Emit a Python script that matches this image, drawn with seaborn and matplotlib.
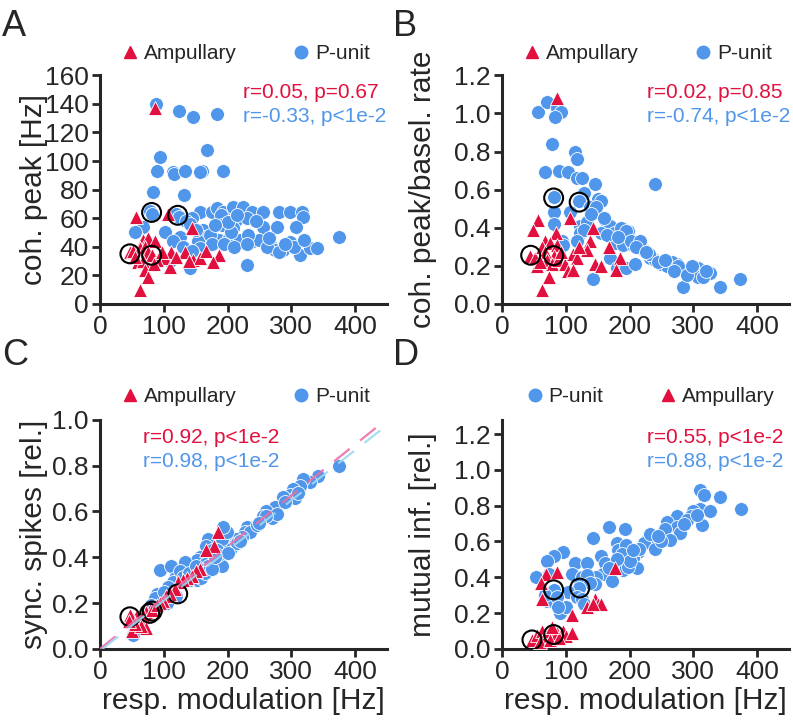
import numpy as np
import matplotlib
matplotlib.use("Agg")
import matplotlib.pyplot as plt
from matplotlib.lines import Line2D
import seaborn as sns

RED = "#e2103f"
BLUE = "#5096ea"

# ---- panel A: coherence peak [Hz] ----
a_punit_x = [88, 124, 146, 183, 168, 94, 90, 114, 116, 133, 160, 157, 193, 83, 132,
             78, 81, 120, 124, 157, 175, 183, 193, 209, 225, 238, 256, 280, 298, 316, 319,
             214, 190, 145, 135, 141, 191, 209, 256, 277, 308, 68, 230, 162,
             55, 102, 125, 159, 165, 186, 201, 220, 240, 115, 154, 267, 298, 374, 250, 232,
             205, 172, 157, 274, 287, 314, 329, 340, 262, 280, 305, 130, 145, 175, 195, 210,
             230, 141, 230, 110, 200, 245, 265, 150, 180, 215, 290, 320]
a_punit_y = [140, 135, 131, 133, 108, 103, 93, 92, 91, 93, 93, 92, 93, 78, 76,
             65, 63, 63, 61, 64, 64, 67, 64, 68, 68, 64, 64, 64, 64, 64, 61,
             59, 62, 60, 58, 56, 55, 53, 54, 54, 54, 54, 60, 52,
             50, 50, 47, 46, 47, 45, 45, 45, 44, 44, 44, 42, 43, 47, 45, 48,
             50, 48, 39, 38, 38, 34, 39, 39, 40, 36, 40, 40, 37, 42, 42, 40,
             42, 25, 27, 30, 57, 58, 46, 52, 55, 62, 42, 45]
a_amp_x = [86, 57, 106, 144, 68, 76, 86, 47, 52, 63, 71, 76, 81, 94, 102, 112, 133, 146,
           157, 167, 186, 178, 110, 60, 68, 71, 76, 63, 89, 55, 98, 120, 140, 85]
a_amp_y = [137, 61, 63, 53, 45, 46, 44, 36, 37, 39, 40, 36, 34, 34, 32, 36, 36, 31,
           32, 37, 34, 29, 26, 29, 30, 24, 19, 10, 31, 33, 36, 33, 30, 28]
a_sel_x = [47, 81, 81, 122]
a_sel_y = [35, 34, 64, 62]

# ---- panel B: coherence peak / baseline rate ----
b_punit_x = [57, 70, 86, 93, 83, 78, 114, 117, 68, 89, 104, 117, 125, 146, 240, 128, 81, 121,
             151, 156, 81, 81, 107, 138, 148, 161, 169, 188, 198, 122, 133, 156, 175, 177,
             190, 206, 214, 222, 232, 240, 250, 261, 274, 279, 290, 300, 308, 310, 326, 342,
             373, 143, 284, 308, 122, 128, 187, 195, 203, 216, 169, 180, 94, 96, 117, 195,
             209, 266, 258, 276, 165, 182, 230, 245, 270, 290, 315, 320, 298, 140, 160, 210,
             225, 255]
b_punit_y = [1.01, 1.06, 1.03, 1.01, 0.98, 0.84, 0.80, 0.76, 0.69, 0.70, 0.69, 0.66, 0.66, 0.63,
             0.63, 0.58, 0.56, 0.54, 0.55, 0.54, 0.48, 0.42, 0.48, 0.51, 0.51, 0.44, 0.41, 0.40,
             0.38, 0.41, 0.43, 0.37, 0.37, 0.32, 0.31, 0.31, 0.32, 0.28, 0.24, 0.23, 0.21, 0.21,
             0.21, 0.19, 0.18, 0.16, 0.19, 0.15, 0.16, 0.09, 0.13, 0.13, 0.09, 0.14, 0.37, 0.39,
             0.40, 0.38, 0.33, 0.33, 0.24, 0.19, 0.33, 0.31, 0.33, 0.19, 0.21, 0.22, 0.20, 0.20,
             0.36, 0.35, 0.26, 0.22, 0.17, 0.15, 0.14, 0.17, 0.20, 0.47, 0.45, 0.30, 0.27, 0.23]
b_amp_x = [87, 57, 48, 106, 85, 67, 75, 86, 44, 52, 81, 62, 67, 70, 78, 88, 99, 104, 111, 117,
           138, 133, 143, 167, 146, 156, 185, 179, 112, 73, 62, 55, 60, 93, 120]
b_amp_y = [1.08, 0.44, 0.39, 0.45, 0.37, 0.33, 0.32, 0.31, 0.25, 0.24, 0.25, 0.30, 0.27, 0.23,
           0.21, 0.23, 0.21, 0.17, 0.26, 0.24, 0.33, 0.28, 0.40, 0.30, 0.21, 0.20, 0.24, 0.18,
           0.18, 0.14, 0.07, 0.20, 0.22, 0.27, 0.30]
b_sel_x = [45, 81, 81, 121]
b_sel_y = [0.255, 0.253, 0.556, 0.534]

# ---- panel C: synchronous spikes ----
c_punit_x = [374, 342, 329, 319, 313, 303, 298, 306, 287, 274, 261, 256, 269, 277, 240, 230, 227,
             235, 246, 222, 214, 209, 204, 193, 191, 199, 193, 170, 167, 175, 183, 157, 152, 165,
             170, 157, 146, 191, 94, 112, 133, 118, 125, 115, 131, 141, 152, 89, 86, 107, 105,
             120, 159, 165, 175, 52, 62, 75, 290, 310, 260, 250, 215, 185, 140, 100, 80, 180,
             200, 220, 150]
c_punit_y = [0.80, 0.755, 0.73, 0.74, 0.71, 0.70, 0.67, 0.66, 0.665, 0.62, 0.60, 0.58, 0.57, 0.59,
             0.53, 0.53, 0.51, 0.51, 0.54, 0.49, 0.48, 0.45, 0.43, 0.45, 0.48, 0.51, 0.53, 0.48,
             0.45, 0.43, 0.43, 0.40, 0.39, 0.37, 0.36, 0.35, 0.33, 0.36, 0.345, 0.36, 0.38, 0.31,
             0.34, 0.29, 0.315, 0.30, 0.30, 0.24, 0.22, 0.27, 0.20, 0.23, 0.31, 0.33, 0.35, 0.06,
             0.12, 0.16, 0.64, 0.68, 0.58, 0.55, 0.46, 0.41, 0.33, 0.25, 0.19, 0.40, 0.42, 0.47,
             0.36]
c_amp_x = [185, 179, 167, 157, 151, 144, 136, 131, 123, 118, 110, 104, 99, 94, 86, 78, 73, 68,
           57, 52, 47, 63, 60, 50, 73, 82, 90, 65, 55, 45]
c_amp_y = [0.51, 0.45, 0.43, 0.35, 0.34, 0.32, 0.31, 0.30, 0.29, 0.26, 0.24, 0.23, 0.21, 0.20,
           0.185, 0.17, 0.16, 0.15, 0.14, 0.13, 0.15, 0.12, 0.105, 0.08, 0.09, 0.17, 0.19, 0.10,
           0.11, 0.12]
c_sel_x = [47, 78, 82, 122]
c_sel_y = [0.14, 0.155, 0.165, 0.24]
c_fit_slope_amp = 0.00223
c_fit_slope_punit = 0.00219

# ---- panel D: mutual information ----
d_punit_x = [310, 317, 341, 375, 310, 326, 300, 297, 313, 274, 258, 274, 279, 256, 263, 237, 227,
             222, 240, 232, 214, 206, 195, 211, 190, 198, 168, 193, 143, 180, 182, 195, 188, 156,
             161, 172, 159, 172, 148, 146, 96, 81, 70, 114, 133, 54, 73, 109, 125, 133, 122, 138,
             81, 121, 70, 78, 91, 101, 104, 117, 125, 128, 67, 86, 88, 250, 290, 200, 180, 168,
             215, 205, 245, 285, 305]
d_punit_y = [0.89, 0.86, 0.85, 0.78, 0.78, 0.77, 0.77, 0.74, 0.69, 0.74, 0.71, 0.68, 0.65, 0.67,
             0.61, 0.62, 0.61, 0.59, 0.56, 0.64, 0.54, 0.51, 0.51, 0.45, 0.44, 0.46, 0.68, 0.67,
             0.62, 0.59, 0.55, 0.58, 0.53, 0.52, 0.48, 0.46, 0.42, 0.38, 0.40, 0.36, 0.54, 0.52,
             0.49, 0.48, 0.48, 0.40, 0.42, 0.42, 0.40, 0.41, 0.36, 0.37, 0.33, 0.34, 0.27, 0.27,
             0.20, 0.235, 0.32, 0.29, 0.28, 0.25, 0.30, 0.29, 0.235, 0.60, 0.72, 0.49, 0.50, 0.45,
             0.56, 0.55, 0.63, 0.70, 0.75]
d_amp_x = [177, 69, 87, 61, 62, 109, 133, 146, 151, 156, 143, 47, 55, 62, 68, 73, 81, 86, 95,
           100, 110, 60, 75, 90, 78]
d_amp_y = [0.45, 0.42, 0.43, 0.37, 0.28, 0.19, 0.235, 0.28, 0.25, 0.25, 0.25, 0.05, 0.08, 0.10,
           0.07, 0.10, 0.08, 0.09, 0.10, 0.07, 0.09, 0.04, 0.05, 0.06, 0.12]
d_sel_x = [47, 81, 81, 122]
d_sel_y = [0.05, 0.08, 0.33, 0.34]

xticks = [0, 100, 200, 300, 400]

sns.set_style("ticks")
plt.rcParams["font.family"] = ["Liberation Sans", "DejaVu Sans"]

fig = plt.figure(figsize=(7.93, 7.25), dpi=100)
axA = fig.add_axes([0.126, 0.581, 0.362, 0.315])
axB = fig.add_axes([0.633, 0.581, 0.362, 0.315])
axC = fig.add_axes([0.126, 0.105, 0.362, 0.316])
axD = fig.add_axes([0.633, 0.105, 0.362, 0.316])


def scatter_panel(ax, px, py, ax_, ay, sx, sy):
    sns.scatterplot(x=px, y=py, ax=ax, marker="o", color=BLUE, s=100,
                    edgecolor="white", linewidth=0.6, legend=False, zorder=3)
    sns.scatterplot(x=ax_, y=ay, ax=ax, marker="^", color=RED, s=100,
                    edgecolor="white", linewidth=0.6, legend=False, zorder=4)
    sns.scatterplot(x=sx, y=sy, ax=ax, marker="o", color="none", s=185,
                    edgecolor="black", linewidth=1.5, legend=False, zorder=5)


def style_axis(ax, ylim, yticks, yfmt, ylabel, ylab_x):
    ax.set_xlim(0, 450)
    ax.set_ylim(*ylim)
    ax.set_xticks(xticks)
    ax.set_yticks(yticks)
    ax.set_yticklabels([yfmt.format(v) for v in yticks])
    ax.tick_params(labelsize=19, width=2, length=6, direction="out", pad=2)
    for s in ["left", "bottom"]:
        ax.spines[s].set_linewidth(2.2)
    sns.despine(ax=ax)
    ax.set_ylabel(ylabel, fontsize=21.5)
    ax.yaxis.set_label_coords(ylab_x, 0.5)
    ax.set_xlabel("")


def add_legend(ax, order, x0, y0):
    h = {"Ampullary": Line2D([], [], marker="^", color=RED, linestyle="none", markersize=9),
         "P-unit": Line2D([], [], marker="o", color=BLUE, linestyle="none", markersize=9)}
    ax.legend([h[k] for k in order], order, ncol=2, loc="center left",
              bbox_to_anchor=(x0, y0), frameon=False, fontsize=15, handlelength=0.6,
              handletextpad=0.35, columnspacing=2.8, borderpad=0, borderaxespad=0)


def add_stats(ax, x0, red_txt, blue_txt):
    ax.text(x0, 0.90, red_txt, color=RED, fontsize=15, transform=ax.transAxes,
            ha="left", va="baseline")
    ax.text(x0, 0.795, blue_txt, color=BLUE, fontsize=15, transform=ax.transAxes,
            ha="left", va="baseline")


scatter_panel(axA, a_punit_x, a_punit_y, a_amp_x, a_amp_y, a_sel_x, a_sel_y)
style_axis(axA, (0, 160), list(range(0, 161, 20)), "{:d}", "coh. peak [Hz]", -0.18)
add_legend(axA, ["Ampullary", "P-unit"], 0.084, 1.096)
add_stats(axA, 0.50, "r=0.05, p=0.67", "r=-0.33, p<1e-2")

scatter_panel(axB, b_punit_x, b_punit_y, b_amp_x, b_amp_y, b_sel_x, b_sel_y)
style_axis(axB, (0, 1.2), [0, 0.2, 0.4, 0.6, 0.8, 1.0, 1.2], "{:.1f}",
           "coh. peak/basel. rate", -0.226)
add_legend(axB, ["Ampullary", "P-unit"], 0.084, 1.096)
add_stats(axB, 0.504, "r=0.02, p=0.85", "r=-0.74, p<1e-2")

fit_x = np.array([0, 450])
axC.plot(fit_x, c_fit_slope_amp * fit_x, color="#ee6fa8", lw=1.6, dashes=(9, 6),
         alpha=0.9, zorder=6)
axC.plot(fit_x + 4, c_fit_slope_punit * fit_x, color="#9fd8f2", lw=1.6, dashes=(9, 6),
         alpha=0.9, zorder=6)
scatter_panel(axC, c_punit_x, c_punit_y, c_amp_x, c_amp_y, c_sel_x, c_sel_y)
style_axis(axC, (0, 1.0), [0, 0.2, 0.4, 0.6, 0.8, 1.0], "{:.1f}",
           "sync. spikes [rel.]", -0.18)
add_legend(axC, ["Ampullary", "P-unit"], 0.084, 1.10)
add_stats(axC, 0.151, "r=0.92, p<1e-2", "r=0.98, p<1e-2")
axC.set_xlabel("resp. modulation [Hz]", fontsize=21.5, labelpad=2)

scatter_panel(axD, d_punit_x, d_punit_y, d_amp_x, d_amp_y, d_sel_x, d_sel_y)
style_axis(axD, (0, 1.28), [0, 0.2, 0.4, 0.6, 0.8, 1.0, 1.2], "{:.1f}",
           "mutual inf. [rel.]", -0.226)
add_legend(axD, ["P-unit", "Ampullary"], 0.094, 1.10)
add_stats(axD, 0.504, "r=0.55, p<1e-2", "r=0.88, p<1e-2")
axD.set_xlabel("resp. modulation [Hz]", fontsize=21.5, labelpad=2)

for letter, x, y in [("A", 0.003, 0.950), ("B", 0.496, 0.950),
                     ("C", 0.003, 0.497), ("D", 0.496, 0.497)]:
    fig.text(x, y, letter, fontsize=26, ha="left", va="baseline")

fig.savefig("out.png", dpi=100)
